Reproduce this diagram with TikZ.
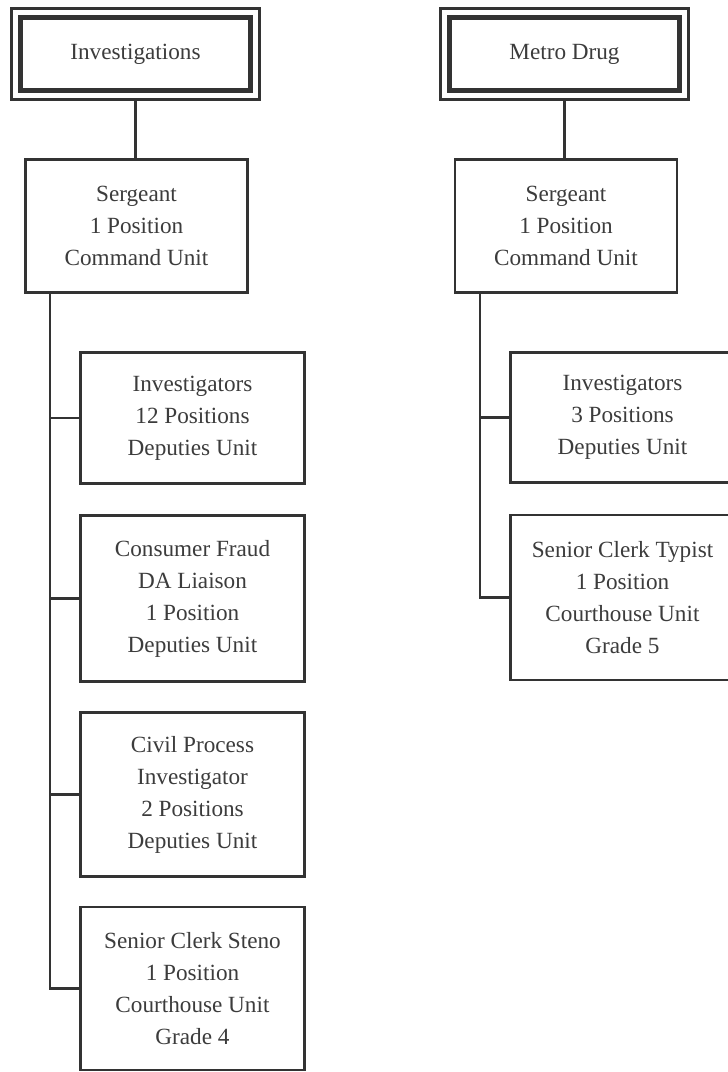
\documentclass[tikz,border=0pt]{standalone}
\usepackage{fontspec}
\setmainfont{Liberation Serif}
\usetikzlibrary{fit}

\definecolor{inkgray}{HTML}{333333}
\definecolor{textgray}{HTML}{3C3C3C}

\tikzset{
    unit/.style={draw=inkgray, line width=1.3pt, fill=white, align=center,
        text=textgray, font=\fontsize{11.6}{16}\selectfont, inner sep=0pt,
        minimum width=112pt},
    head/.style={unit, line width=2.5pt, minimum width=115pt, minimum height=36.5pt},
    frame/.style={draw=inkgray, line width=1.1pt, inner sep=3.25pt},
    branch/.style={draw=inkgray, line width=1.2pt}
}

\begin{document}
\begin{tikzpicture}[x=0.5pt, y=-0.5pt]
    \useasboundingbox (0,0) rectangle (728,1072);
    \clip (0,0) rectangle (728,1072);

    % Define the two divisions with their double frames
    \node[head] (inv) at (135.5,54) {Investigations};
    \node[frame, fit=(inv)] (invframe) {};
    \node[head] (met) at (564.5,54) {Metro Drug};
    \node[frame, fit=(met)] (metframe) {};

    % Command units
    \node[unit, minimum width=111pt, minimum height=66.5pt] (sgtA) at (136.5,226)
        {Sergeant\\1 Position\\Command Unit};
    \node[unit, minimum width=111pt, minimum height=66.5pt] (sgtB) at (566,226)
        {Sergeant\\1 Position\\Command Unit};

    % Units under Investigations
    \node[unit, minimum height=65.5pt] (invA) at (192.5,418)
        {Investigators\\12 Positions\\Deputies Unit};
    \node[unit, minimum height=83pt] (cfA) at (192.5,598.5)
        {Consumer Fraud\\DA Liaison\\1 Position\\Deputies Unit};
    \node[unit, minimum height=82pt] (cpA) at (192.5,794.5)
        {Civil Process\\Investigator\\2 Positions\\Deputies Unit};
    \node[unit, minimum height=81.5pt] (sceA) at (192.5,988.5)
        {Senior Clerk Steno\\1 Position\\Courthouse Unit\\Grade 4};

    % Units under Metro Drug
    \node[unit, minimum height=65pt] (invB) at (622.5,417.5)
        {Investigators\\3 Positions\\Deputies Unit};
    \node[unit, minimum height=82.5pt] (sctB) at (622.5,597.5)
        {Senior Clerk Typist\\1 Position\\Courthouse Unit\\Grade 5};

    % Spines of the two branches
    \coordinate (spineA) at (50,293);
    \coordinate (spineB) at (480,293);

    % Draw the links
    \draw[branch] (invframe.south) -- (invframe.south |- sgtA.north);
    \draw[branch] (metframe.south) -- (metframe.south |- sgtB.north);

    \draw[branch] (spineA |- sgtA.south) |- (sceA.west);
    \foreach \n in {invA,cfA,cpA} {
        \draw[branch] (spineA |- \n.west) -- (\n.west);
    }

    \draw[branch] (spineB |- sgtB.south) |- (sctB.west);
    \draw[branch] (spineB |- invB.west) -- (invB.west);

\end{tikzpicture}
\end{document}
